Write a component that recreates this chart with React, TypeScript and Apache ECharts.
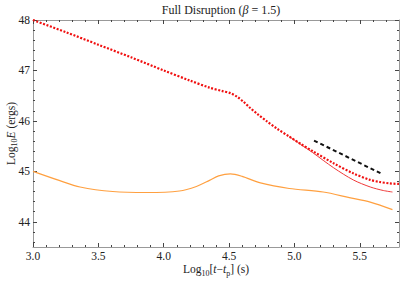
import React, { useEffect, useRef } from "react";
import * as echarts from "echarts";

const fullX = [3.0, 3.25, 3.5, 3.75, 4.0, 4.2, 4.35, 4.45, 4.51, 4.56, 4.61, 4.66, 4.72, 4.79, 4.87, 4.96, 5.05, 5.14, 5.3, 5.45, 5.58, 5.65, 5.73, 5.8];
const fullY = [48.0, 47.76, 47.51, 47.26, 47.0, 46.8, 46.66, 46.59, 46.55, 46.48, 46.38, 46.26, 46.13, 45.99, 45.84, 45.69, 45.54, 45.4, 45.16, 44.96, 44.83, 44.79, 44.76, 44.75];
const solidX = [4.96, 5.05, 5.14, 5.3, 5.45, 5.58, 5.68, 5.75];
const solidY = [45.69, 45.53, 45.37, 45.07, 44.83, 44.69, 44.62, 44.59];
const orangeX = [3.0, 3.2, 3.36, 3.61, 3.87, 4.12, 4.25, 4.35, 4.42, 4.51, 4.6, 4.74, 4.96, 5.22, 5.42, 5.58, 5.75];
const orangeY = [45.0, 44.82, 44.69, 44.6, 44.58, 44.61, 44.7, 44.82, 44.91, 44.95, 44.9, 44.77, 44.66, 44.59, 44.48, 44.39, 44.24];
const slopeX = [5.15, 5.66];
const slopeY = [45.61, 44.96];

const xMajor = [3.0, 3.5, 4.0, 4.5, 5.0, 5.5];
const xMinor = [3.1, 3.2, 3.3, 3.4, 3.6, 3.7, 3.8, 3.9, 4.1, 4.2, 4.3, 4.4, 4.6, 4.7, 4.8, 4.9, 5.1, 5.2, 5.3, 5.4, 5.6, 5.7];
const yMajor = [44, 45, 46, 47, 48];
const yMinor = [43.6, 43.8, 44.2, 44.4, 44.6, 44.8, 45.2, 45.4, 45.6, 45.8, 46.2, 46.4, 46.6, 46.8, 47.2, 47.4, 47.6, 47.8];

const FONT = "Liberation Serif";
const mkRich = (fs: number) => ({
  a: { fontFamily: FONT, fontSize: fs, color: "#222", lineHeight: fs + 3, fontWeight: "normal" },
  i: { fontFamily: FONT, fontSize: fs, color: "#222", fontStyle: "italic", lineHeight: fs + 3, fontWeight: "normal" },
  s: { fontFamily: FONT, fontSize: 8, color: "#222", lineHeight: 8, padding: [Math.round(fs - 4), 0, 0, 0], fontWeight: "normal" },
});

const zip = (xs: number[], ys: number[]) => xs.map((x, i) => [x, ys[i]]);

export default function App() {
  const ref = useRef<HTMLDivElement>(null);
  useEffect(() => {
    const chart = echarts.init(ref.current!, null, { renderer: "svg" });
    const frame = { show: true, onZero: false, lineStyle: { color: "#999", width: 1 } };
    const mk = (kind: "x" | "y", pos: string, vals: number[], len: number, labels: boolean, line: boolean, extra: any = {}) => ({
      type: "value",
      position: pos,
      min: kind === "x" ? 3 : 43.5,
      max: kind === "x" ? 5.8 : 48,
      axisLine: line ? frame : { show: false },
      splitLine: { show: false },
      axisTick: { show: true, inside: true, length: len, customValues: vals, lineStyle: { color: "#444", width: 1 } },
      axisLabel: labels
        ? {
            show: true,
            customValues: vals,
            fontFamily: FONT,
            fontSize: 11.5,
            color: "#222",
            margin: 3,
            formatter: (v: number) => (kind === "x" ? v.toFixed(1) : String(Math.round(v))),
          }
        : { show: false },
      ...extra,
    });
    chart.setOption({
      animation: false,
      title: {
        text: "{a|Full Disruption (}{i|β}{a| = 1.5)}",
        left: 216,
        textAlign: "center",
        top: 0,
        padding: [2, 5, 2, 5],
        textStyle: { rich: mkRich(12), fontWeight: "normal" },
      },
      grid: { left: 33, right: 8, top: 20, bottom: 34, outerBoundsMode: "none", containLabel: false },
      xAxis: [
        mk("x", "bottom", xMajor, 4, true, true, {
          name: "{a|Log}{s|10}{a|[}{i|t}{a|−}{i|t}{s|p}{a|] (s)}",
          nameLocation: "middle",
          nameGap: 15,
          nameMoveOverlap: false,
          nameTextStyle: { rich: mkRich(11.5) },
        }),
        mk("x", "bottom", xMinor, 2, false, false),
        mk("x", "top", xMajor, 4, false, true),
        mk("x", "top", xMinor, 2, false, false),
      ],
      yAxis: [
        mk("y", "left", yMajor, 4, true, true, {
          name: "{a|Log}{s|10}{i|E}{a| (ergs)}",
          nameLocation: "middle",
          nameGap: 15,
          nameRotate: 90,
          nameMoveOverlap: false,
          nameTextStyle: { rich: mkRich(11.5) },
        }),
        mk("y", "left", yMinor, 2, false, false),
        mk("y", "right", yMajor, 4, false, true),
        mk("y", "right", yMinor, 2, false, false),
      ],
      series: [
        {
          type: "line",
          data: zip(orangeX, orangeY),
          smooth: 0.3,
          symbol: "none",
          lineStyle: { color: "#FFA040", width: 1.2 },
        },
        {
          type: "line",
          data: zip(solidX, solidY),
          smooth: 0.3,
          symbol: "none",
          lineStyle: { color: "#F03838", width: 1 },
        },
        {
          type: "line",
          data: zip(fullX, fullY),
          smooth: 0.3,
          symbol: "none",
          lineStyle: { color: "#F01010", width: 2.2, type: [2, 1.6], cap: "butt" },
        },
        {
          type: "line",
          data: zip(slopeX, slopeY),
          symbol: "none",
          lineStyle: { color: "#111", width: 2, type: [4, 3] },
        },
      ],
    });
    return () => chart.dispose();
  }, []);
  return <div ref={ref} style={{ width: 407, height: 281, position: "absolute", left: 0, top: 0 }} />;
}
